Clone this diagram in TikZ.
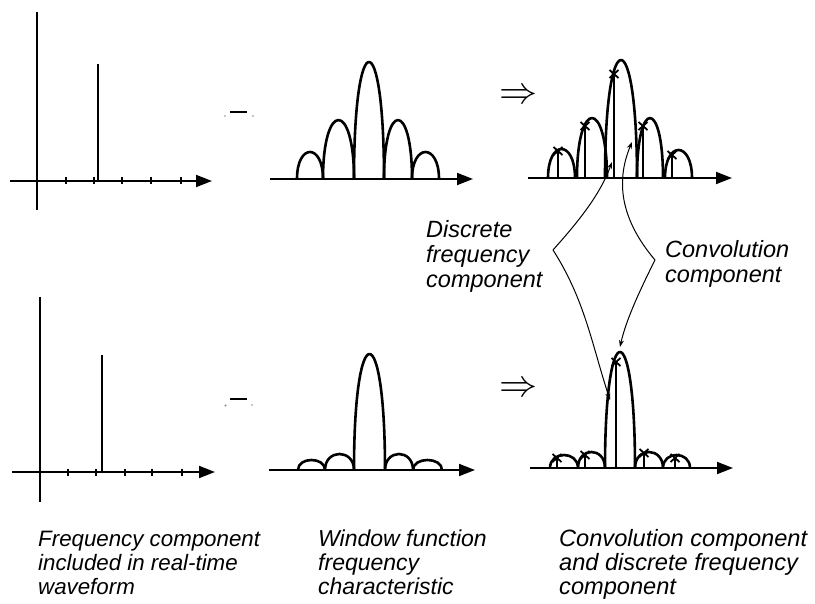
\documentclass[tikz,border=0pt]{standalone}
\usepackage{fontspec}
\setmainfont{Liberation Sans}
\usetikzlibrary{arrows.meta}
\tikzset{
  axis/.style={line width=1.8pt,-{Triangle[length=16pt,width=12pt]}},
  yaxis/.style={line width=1.8pt},
  tick/.style={line width=1.6pt},
  spike/.style={line width=1.4pt},
  lobe/.style={line width=2.6pt,line join=round},
  dline/.style={line width=2.2pt},
  xmark/.style={line width=1.8pt},
  callout/.style={line width=1pt,-{Stealth[length=7pt,width=5pt]}},
  lbl/.style={inner sep=0pt,align=left,font=\fontsize{23}{24}\selectfont\itshape},
  mlbl/.style={inner sep=0pt,align=left,font=\fontsize{23.5}{25}\selectfont\itshape},
  impl/.style={inner sep=0pt},
  crumb/.style={fill=black!45,draw=none}
}
\newcommand\xmk[2]{\draw[xmark] (#1-4.5,#2-4) -- (#1+4.5,#2+4) (#1-4.5,#2+4) -- (#1+4.5,#2-4);}
\begin{document}
\begin{tikzpicture}[x=1pt,y=-1pt]
\useasboundingbox (0,0) rectangle (815,604);

% ---------- top left: spectrum line ----------
\coordinate (tlo) at (10,181);
\coordinate (tle) at (212,181);
\draw[yaxis] (37,12) -- (37,210);
\draw[axis] (tlo) -- (tle);
\foreach \x in {37,66,94,122,151,181} \draw[tick] (\x,177.5) -- (\x,184.5);
\draw[spike] (98,181) -- (98,64);

% ---------- bottom left ----------
\coordinate (blo) at (12,472);
\coordinate (ble) at (215,472);
\draw[yaxis] (40,297) -- (40,502);
\draw[axis] (blo) -- (ble);
\foreach \x in {40,68,96,125,152,182} \draw[tick] (\x,468.5) -- (\x,475.5);
\draw[spike] (102,472) -- (102,355);

% ---------- small operator marks ----------
\draw[line width=1.5pt] (230,112) -- (247,112);
\fill[crumb] (225,116) circle (0.9);
\fill[crumb] (253,116) circle (0.9);
\draw[line width=1.5pt] (230,399) -- (247,399);
\fill[crumb] (225.5,405.5) circle (1.2);
\fill[crumb] (252,405) circle (0.9);

% ---------- top middle: window spectrum ----------
\draw[axis] (270,179) -- (473,179);
\foreach \a/\b/\p in {297/323/152,323/354/120,354/384/62,384/412/120,412/439/152}
  \draw[lobe] (\a,179) .. controls (\a,{179-1.333*(179-\p)}) and (\b,{179-1.333*(179-\p)}) .. (\b,179);

% ---------- bottom middle ----------
\draw[axis] (269,470) -- (475,470);
\foreach \a/\b/\p in {298/325/460,325/354/454,354/385/354,385/413/454,413/442/460}
  \draw[lobe] (\a,470) .. controls (\a,{470-1.333*(470-\p)}) and (\b,{470-1.333*(470-\p)}) .. (\b,470);

% ---------- implication arrows ----------
\node[impl] (imp1) at (518,97) {\scalebox{3.8}{$\Rightarrow$}};
\node[impl] (imp2) at (518,390) {\scalebox{3.8}{$\Rightarrow$}};

% ---------- top right: convolution result ----------
\draw[axis] (528,178) -- (732,178);
\foreach \a/\b/\p in {548/575/149,577/607/118,605/637/60,637/663/118,665/692/150}
  \draw[lobe] (\a,178) .. controls (\a,{178-1.333*(178-\p)}) and (\b,{178-1.333*(178-\p)}) .. (\b,178);
\foreach \x/\t in {558/151,585/126,614/74,643/126,672/155}{
  \draw[dline] (\x,178) -- (\x,\t);
  \xmk{\x}{\t}
}

% ---------- bottom right ----------
\draw[axis] (530,468) -- (733,468);
\foreach \a/\b/\p in {550/578/455,578/605/452,605/635/352,635/663/452,663/690/455}
  \draw[lobe] (\a,468) .. controls (\a,{468-1.333*(468-\p)}) and (\b,{468-1.333*(468-\p)}) .. (\b,468);
\foreach \x/\t in {557/458,585/455,616/362,644/453,675/458}{
  \draw[dline] (\x,468) -- (\x,\t);
  \xmk{\x}{\t}
}

% ---------- callout labels and connectors ----------
\node[mlbl,anchor=base west] (disc) at (426,288) {Discrete\\frequency\\component};
\node[mlbl,anchor=base west] (conv) at (665,283) {Convolution\\component};
\coordinate (dv) at (553,250);
\coordinate (cv) at (655,260);
\coordinate (dtop) at (612,162);
\coordinate (dbot) at (610,400);
\coordinate (ctop) at (632,142);
\coordinate (cbot) at (620,347);
\draw[callout] (dv) .. controls (578,222) and (600,195) .. (dtop);
\draw[callout] (dv) .. controls (585,300) and (592,345) .. (dbot);
\draw[callout] (cv) .. controls (628,228) and (612,190) .. (ctop);
\draw[callout] (cv) .. controls (640,290) and (626,320) .. (cbot);

% ---------- captions ----------
\node[lbl,anchor=base west,font=\fontsize{22.3}{24}\selectfont\itshape] (cap1) at (38,594) {Frequency component\\included in real-time\\waveform};
\node[lbl,anchor=base west] (cap2) at (318,594) {Window function\\frequency\\characteristic};
\node[lbl,anchor=base west,font=\fontsize{23.6}{24}\selectfont\itshape] (cap3) at (559,594) {Convolution component\\and discrete frequency\\component};
\end{tikzpicture}
\end{document}
